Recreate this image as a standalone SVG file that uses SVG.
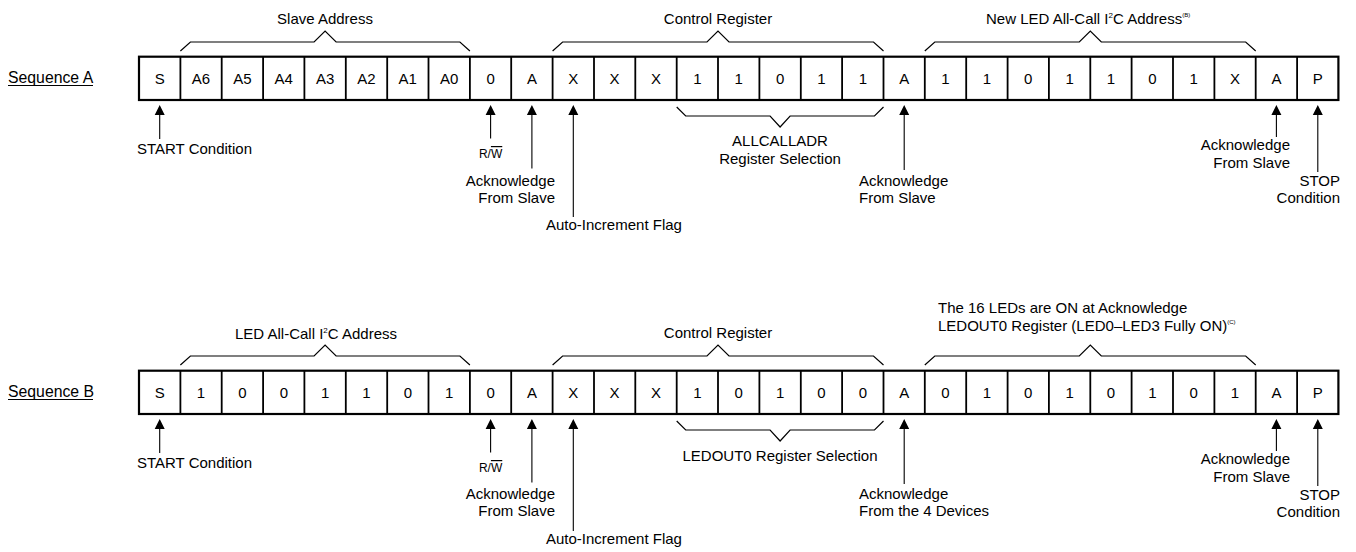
<svg xmlns="http://www.w3.org/2000/svg" width="1356" height="552" viewBox="0 0 1356 552">
<style>
text{font-family:"Liberation Sans",Arial,sans-serif;font-size:15px;fill:#000}
.c{text-anchor:middle}
.e{text-anchor:end}
.seq{font-size:15.8px}
.frame{fill:#fff;stroke:#000;stroke-width:2.2}
.div{stroke:#000;stroke-width:1.8}
.brace{fill:none;stroke:#000;stroke-width:1.2}
.arr{stroke:#000;stroke-width:1.1;fill:none}
.head{fill:#000}
.sm{font-size:12px}
.sup{font-size:8px}
.sup2{font-size:6px}
</style>
<defs>
<g id="cells-div">
<path class="div" d="M180.4 56.7V100M221.7 56.7V100M263.1 56.7V100M304.4 56.7V100M345.8 56.7V100M387.2 56.7V100M428.5 56.7V100M469.9 56.7V100M511.2 56.7V100M552.6 56.7V100M594 56.7V100M635.3 56.7V100M676.7 56.7V100M718 56.7V100M759.4 56.7V100M800.8 56.7V100M842.1 56.7V100M883.5 56.7V100M924.8 56.7V100M966.2 56.7V100M1007.6 56.7V100M1048.9 56.7V100M1090.3 56.7V100M1131.6 56.7V100M1173 56.7V100M1214.4 56.7V100M1255.7 56.7V100M1297.1 56.7V100"/>
</g>
</defs>

<!-- ===== Sequence A ===== -->
<g id="seqA-label">
<text class="seq" x="8" y="82.5">Sequence A</text>
<line x1="8" y1="85.5" x2="93" y2="85.5" stroke="#000" stroke-width="1"/>
</g>
<g id="seqA-frame">
<rect class="frame" x="139" y="56.7" width="1199.4" height="43.3"/>
<use href="#cells-div"/>
<g class="c">
<text x="159.7" y="83.5">S</text><text x="201" y="83.5">A6</text><text x="242.4" y="83.5">A5</text><text x="283.8" y="83.5">A4</text><text x="325.1" y="83.5">A3</text><text x="366.5" y="83.5">A2</text><text x="407.8" y="83.5">A1</text><text x="449.2" y="83.5">A0</text><text x="490.6" y="83.5">0</text><text x="531.9" y="83.5">A</text><text x="573.3" y="83.5">X</text><text x="614.6" y="83.5">X</text><text x="656" y="83.5">X</text><text x="697.4" y="83.5">1</text><text x="738.7" y="83.5">1</text><text x="780.1" y="83.5">0</text><text x="821.4" y="83.5">1</text><text x="862.8" y="83.5">1</text><text x="904.2" y="83.5">A</text><text x="945.5" y="83.5">1</text><text x="986.9" y="83.5">1</text><text x="1028.2" y="83.5">0</text><text x="1069.6" y="83.5">1</text><text x="1111" y="83.5">1</text><text x="1152.3" y="83.5">0</text><text x="1193.7" y="83.5">1</text><text x="1235" y="83.5">X</text><text x="1276.4" y="83.5">A</text><text x="1317.8" y="83.5">P</text>
</g>
</g>
<g id="seqA-slave-address">
<path class="brace" d="M180.4 51L190.4 42H314.1L325.1 31L336.1 42H459.9L469.9 51"/>
<text class="c" x="325" y="24">Slave Address</text>
</g>
<g id="seqA-control-register">
<path class="brace" d="M552.6 51L562.6 42H707L718 31L729 42H873.5L883.5 51"/>
<text class="c" x="718" y="24">Control Register</text>
</g>
<g id="seqA-new-address">
<path class="brace" d="M924.8 51L934.8 42H1079.3L1090.3 31L1101.3 42H1245.7L1255.7 51"/>
<text x="986" y="24">New LED All-Call I<tspan class="sup" dy="-6">2</tspan><tspan dy="6">C Address</tspan><tspan class="sup2" dy="-7">(B)</tspan></text>
</g>
<g id="seqA-allcalladr">
<path class="brace" d="M676.7 107L685.7 116H770.1L780.1 127L790.1 116H874.5L883.5 107"/>
<text class="c" x="780" y="146">ALLCALLADR</text>
<text class="c" x="780" y="164">Register Selection</text>
</g>
<g id="seqA-annotations">
<g id="seqA-start"><text x="137" y="153.5">START Condition</text></g>
<g id="seqA-rw"><text class="c sm" x="490.6" y="158">R/<tspan style="text-decoration:overline">W</tspan></text></g>
<g id="seqA-ack1"><text class="e" x="555" y="186">Acknowledge</text><text class="e" x="555" y="202.5">From Slave</text></g>
<g id="seqA-autoinc"><text x="546" y="230">Auto-Increment Flag</text></g>
<g id="seqA-ack2"><text x="859" y="186">Acknowledge</text><text x="859" y="202.5">From Slave</text></g>
<g id="seqA-ack3"><text class="e" x="1290" y="150">Acknowledge</text><text class="e" x="1290" y="168">From Slave</text></g>
<g id="seqA-stop"><text class="e" x="1340" y="185.5">STOP</text><text class="e" x="1340" y="203">Condition</text></g>
</g>

<!-- ===== Sequence B ===== -->
<g id="seqB-label">
<text class="seq" x="8" y="396.5">Sequence B</text>
<line x1="8" y1="399.5" x2="93" y2="399.5" stroke="#000" stroke-width="1"/>
</g>
<g id="seqB-frame" transform="translate(0,314)">
<rect class="frame" x="139" y="56.7" width="1199.4" height="43.3"/>
<use href="#cells-div"/>
<g class="c">
<text x="159.7" y="83.5">S</text><text x="201" y="83.5">1</text><text x="242.4" y="83.5">0</text><text x="283.8" y="83.5">0</text><text x="325.1" y="83.5">1</text><text x="366.5" y="83.5">1</text><text x="407.8" y="83.5">0</text><text x="449.2" y="83.5">1</text><text x="490.6" y="83.5">0</text><text x="531.9" y="83.5">A</text><text x="573.3" y="83.5">X</text><text x="614.6" y="83.5">X</text><text x="656" y="83.5">X</text><text x="697.4" y="83.5">1</text><text x="738.7" y="83.5">0</text><text x="780.1" y="83.5">1</text><text x="821.4" y="83.5">0</text><text x="862.8" y="83.5">0</text><text x="904.2" y="83.5">A</text><text x="945.5" y="83.5">0</text><text x="986.9" y="83.5">1</text><text x="1028.2" y="83.5">0</text><text x="1069.6" y="83.5">1</text><text x="1111" y="83.5">0</text><text x="1152.3" y="83.5">1</text><text x="1193.7" y="83.5">0</text><text x="1235" y="83.5">1</text><text x="1276.4" y="83.5">A</text><text x="1317.8" y="83.5">P</text>
</g>
</g>
<g id="seqB-allcall-address" transform="translate(0,314)">
<path class="brace" d="M180.4 51L190.4 42H314.1L325.1 31L336.1 42H459.9L469.9 51"/>
<text x="235" y="25">LED All-Call I<tspan class="sup" dy="-6">2</tspan><tspan dy="6">C Address</tspan></text>
</g>
<g id="seqB-control-register" transform="translate(0,314)">
<path class="brace" d="M552.6 51L562.6 42H707L718 31L729 42H873.5L883.5 51"/>
<text class="c" x="718" y="24">Control Register</text>
</g>
<g id="seqB-ledout0-data" transform="translate(0,314)">
<path class="brace" d="M924.8 51L934.8 42H1079.3L1090.3 31L1101.3 42H1245.7L1255.7 51"/>
<text x="938" y="-1">The 16 LEDs are ON at Acknowledge</text>
<text x="938" y="16.5">LEDOUT0 Register (LED0–LED3 Fully ON)<tspan class="sup2" dy="-7">(C)</tspan></text>
</g>
<g id="seqB-ledout0-sel" transform="translate(0,314)">
<path class="brace" d="M676.7 107L685.7 116H770.1L780.1 127L790.1 116H874.5L883.5 107"/>
<text class="c" x="780" y="146.5">LEDOUT0 Register Selection</text>
</g>
<g id="seqB-annotations" transform="translate(0,314)">
<g id="seqB-start"><text x="137" y="153.5">START Condition</text></g>
<g id="seqB-rw"><text class="c sm" x="490.6" y="158">R/<tspan style="text-decoration:overline">W</tspan></text></g>
<g id="seqB-ack1"><text class="e" x="555" y="185">Acknowledge</text><text class="e" x="555" y="202">From Slave</text></g>
<g id="seqB-autoinc"><text x="546" y="230">Auto-Increment Flag</text></g>
<g id="seqB-ack2"><text x="859" y="185">Acknowledge</text><text x="859" y="202">From the 4 Devices</text></g>
<g id="seqB-ack3"><text class="e" x="1290" y="150">Acknowledge</text><text class="e" x="1290" y="168">From Slave</text></g>
<g id="seqB-stop"><text class="e" x="1340" y="185.5">STOP</text><text class="e" x="1340" y="203">Condition</text></g>
</g>

<!-- ===== Connectors (arrows) ===== -->
<g id="connectors">
<g id="arrowsA">
<path class="arr" d="M159.7 114V139M490.6 114V138.5M531.9 114V168.5M573.3 114V217M904.2 114V170M1276.4 114V137M1317.8 114V172"/>
<path class="head" d="M159.7 105L164.7 115H154.7ZM490.6 105L495.6 115H485.6ZM531.9 105L536.9 115H526.9ZM573.3 105L578.3 115H568.3ZM904.2 105L909.2 115H899.2ZM1276.4 105L1281.4 115H1271.4ZM1317.8 105L1322.8 115H1312.8Z"/>
</g>
<g id="arrowsB" transform="translate(0,314)">
<path class="arr" d="M159.7 114V139M490.6 114V138.5M531.9 114V168.5M573.3 114V217M904.2 114V170M1276.4 114V137M1317.8 114V172"/>
<path class="head" d="M159.7 105L164.7 115H154.7ZM490.6 105L495.6 115H485.6ZM531.9 105L536.9 115H526.9ZM573.3 105L578.3 115H568.3ZM904.2 105L909.2 115H899.2ZM1276.4 105L1281.4 115H1271.4ZM1317.8 105L1322.8 115H1312.8Z"/>
</g>
</g>
</svg>
